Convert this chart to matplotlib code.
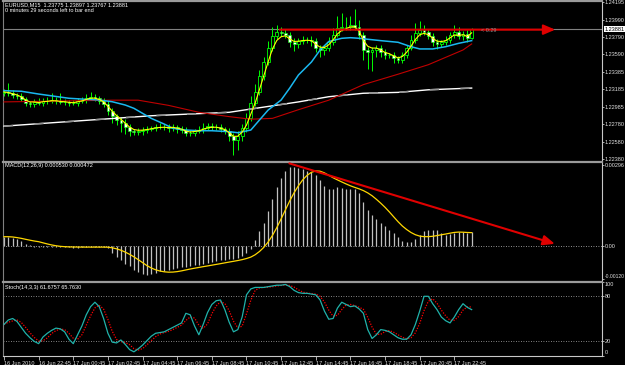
import numpy as np
import pandas as pd
import matplotlib
matplotlib.use("Agg")
import matplotlib.pyplot as plt

plt.rcParams['font.family'] = ['Liberation Sans', 'DejaVu Sans']

# ---- values ----
first_open = 1.23143
close = [1.23154, 1.23143, 1.23120, 1.23108, 1.23074, 1.23027, 1.23016, 1.23039, 1.23027, 1.23051,
         1.23051, 1.23062, 1.23051, 1.23039, 1.23039, 1.23027, 1.23027, 1.23051, 1.23062, 1.23085,
         1.23097, 1.23085, 1.23051, 1.23016, 1.22935, 1.22877, 1.22831, 1.22796, 1.22750, 1.22704,
         1.22692, 1.22704, 1.22715, 1.22727, 1.22738, 1.22750, 1.22750, 1.22750, 1.22738, 1.22750,
         1.22727, 1.22715, 1.22681, 1.22681, 1.22704, 1.22715, 1.22738, 1.22761, 1.22750, 1.22750,
         1.22727, 1.22704, 1.22646, 1.22600, 1.22646, 1.22738, 1.22854, 1.23027, 1.23154, 1.23340,
         1.23501, 1.23663, 1.23802, 1.23848, 1.23837, 1.23813, 1.23733, 1.23709, 1.23744, 1.23756,
         1.23756, 1.23744, 1.23663, 1.23640, 1.23663, 1.23733, 1.23813, 1.23894, 1.23906, 1.23906,
         1.23929, 1.23906, 1.23813, 1.23640, 1.23617, 1.23640, 1.23663, 1.23617, 1.23582, 1.23582,
         1.23548, 1.23524, 1.23582, 1.23663, 1.23756, 1.23837, 1.23871, 1.23848, 1.23802, 1.23733,
         1.23709, 1.23733, 1.23756, 1.23813, 1.23848, 1.23802, 1.23825, 1.23775, 1.23881]
# wicks in pips
wick_up = [4, 10, 3, 2, 3, 2, 2, 3, 5, 3, 4, 8, 3, 9, 3, 2, 3, 3, 4, 5,
           6, 3, 2, 3, 3, 4, 2, 3, 5, 3, 2, 3, 4, 3, 2, 3, 5, 3, 4, 3,
           2, 3, 4, 3, 2, 5, 6, 3, 4, 3, 3, 2, 3, 4, 6, 5, 6, 8, 9, 7,
           6, 8, 10, 8, 6, 4, 3, 4, 3, 5, 3, 4, 3, 3, 4, 6, 8, 14, 16, 12,
           10, 18, 8, 4, 3, 3, 4, 3, 3, 2, 3, 2, 3, 4, 6, 12, 10, 6, 4, 3,
           3, 2, 4, 3, 8, 6, 4, 5, 1.6]
wick_dn = [3, 3, 4, 3, 2, 3, 4, 3, 2, 4, 3, 2, 3, 2, 4, 3, 2, 3, 2, 3,
           2, 3, 4, 3, 5, 8, 6, 10, 8, 6, 4, 3, 5, 3, 2, 3, 2, 3, 4, 3,
           5, 4, 3, 4, 3, 2, 3, 2, 3, 3, 4, 3, 6, 17, 12, 6, 4, 3, 4, 3,
           5, 4, 3, 4, 3, 4, 6, 8, 5, 4, 3, 6, 5, 8, 6, 4, 3, 2, 3, 4,
           3, 3, 5, 12, 20, 22, 8, 6, 5, 4, 6, 4, 3, 3, 2, 3, 4, 3, 4, 5,
           6, 4, 3, 4, 3, 4, 5, 4, 0.8]

cyan_bars = [0, 4, 8, 15, 19, 22, 25, 28, 30, 32, 34, 37, 39, 42, 45, 48, 52, 54, 57, 59,
             61, 64, 66, 68, 71, 73, 75, 78, 80, 82, 84, 87, 91, 94, 96, 99, 102, 105, 108]
cyan_vals = [1.23170, 1.23163, 1.23131, 1.23082, 1.23070, 1.23062, 1.23042, 1.23004, 1.22966, 1.22908,
             1.22850, 1.22784, 1.22735, 1.22715, 1.22707, 1.22707, 1.22696, 1.22684, 1.22715, 1.22831,
             1.22946, 1.23062, 1.23201, 1.23351, 1.23501, 1.23640, 1.23738, 1.23775, 1.23782, 1.23775,
             1.23764, 1.23748, 1.23729, 1.23678, 1.23652, 1.23652, 1.23678, 1.23717, 1.23748]
red_bars = [0, 25, 31, 38, 45, 52, 57, 62, 68, 75, 83, 91, 98, 106, 108]
red_vals = [1.2304, 1.2306, 1.2306, 1.2300, 1.2292, 1.2287, 1.2284, 1.2285, 1.2295, 1.2306,
            1.2324, 1.2336, 1.2347, 1.2364, 1.2371]
white_bars = [0, 34, 52, 60, 68, 75, 83, 91, 98, 108]
white_vals = [1.2276, 1.2288, 1.2292, 1.2298, 1.2304, 1.2310, 1.2314, 1.2315, 1.2318, 1.2320]

# MACD main in 1e-5
macd_main = [34, 34, 31, 24, 17, 7, 2, -3, -4, -3, -3, -2, -2, -3, -4, -5, -6, -6, -5, -3,
             -2, -2, -3, -4, -8, -26, -39, -52, -64, -74, -86, -95, -102, -106, -104, -98, -93, -90, -86, -83,
             -80, -77, -76, -74, -71, -68, -64, -62, -58, -55, -52, -50, -48, -46, -42, -35, -25, -11, 22, 55,
             85, 129, 171, 215, 250, 275, 287, 287, 284, 280, 275, 272, 259, 241, 220, 207, 207, 214, 212, 210,
             210, 207, 193, 162, 132, 113, 97, 85, 73, 58, 46, 34, 19, 16, 16, 24, 40, 55, 58, 58,
             57, 46, 40, 44, 49, 51, 51, 49, 53]
stoch_k = [42, 48, 50, 46, 38, 30, 24, 19, 16, 25, 30, 34, 37, 36, 32, 22, 16, 28, 40, 55,
           66, 72, 66, 50, 30, 18, 17, 21, 15, 8, 5, 9, 14, 20, 26, 30, 31, 32, 35, 38,
           41, 44, 57, 55, 40, 28, 42, 58, 69, 74, 75, 62, 45, 32, 35, 52, 82, 90, 92, 92,
           92, 93, 94, 95, 95, 96, 93, 88, 85, 84, 84, 83, 82, 75, 60, 49, 50, 64, 72, 69,
           66, 67, 63, 57, 35, 23, 28, 35, 34, 32, 28, 24, 22, 22, 28, 42, 60, 80, 80, 70,
           62, 52, 47, 44, 52, 62, 70, 65, 62]

price_ticks = [1.24195, 1.23990, 1.23790, 1.23590, 1.23385, 1.23185, 1.22985, 1.22780, 1.22580, 1.22380]
last_price = 1.23881
time_labels = ['16 Jun 2010', '16 Jun 22:45', '17 Jun 00:45', '17 Jun 02:45', '17 Jun 04:45',
               '17 Jun 06:45', '17 Jun 08:45', '17 Jun 10:45', '17 Jun 12:45', '17 Jun 14:45',
               '17 Jun 16:45', '17 Jun 18:45', '17 Jun 20:45', '17 Jun 22:45']
# hand drawn lines: (bar, value) start and end
res_line = [(63.7, 1.23875), (127.3, 1.23875)]
macd_line = [(65.9, 0.00302), (127.2, 0.00008)]

W, H = 625, 365
fig = plt.figure(figsize=(W / 100, H / 100), dpi=100, facecolor='black')


def px_axes(top, bottom, left=3, right=602):
    ax = fig.add_axes([left / W, 1 - bottom / H, (right - left) / W, (bottom - top) / H])
    ax.set_facecolor('black')
    ax.set_xlim(-0.23, 138.1)
    for s in ax.spines.values():
        s.set_visible(False)
    ax.spines['left'].set_visible(True)
    ax.spines['left'].set_color('#808080')
    ax.spines['top'].set_visible(True)
    ax.spines['top'].set_color('#9a9a9a')
    ax.spines['top'].set_linewidth(1.6)
    ax.spines['right'].set_visible(True)
    ax.spines['right'].set_color('#c8c8c8')
    ax.spines['right'].set_linewidth(0.8)
    ax.yaxis.tick_right()
    ax.tick_params(axis='y', colors='#c8c8c8', labelcolor='#e0e0e0', labelsize=4,
                   length=1.5, width=0.6, pad=0.6)
    ax.tick_params(axis='x', bottom=False, labelbottom=False)
    return ax


tc = 'white'
ax1 = px_axes(1, 160.5)
ax2 = px_axes(161.5, 280.5)
ax3 = px_axes(281.5, 355.5)

# ---- price panel ----
x = np.arange(len(close))
c = np.array(close)
o = np.r_[first_open, c[:-1]]
hi = np.maximum(o, c) + np.array(wick_up) * 1e-4
lo = np.minimum(o, c) - np.array(wick_dn) * 1e-4
ax1.set_ylim(1.22363, 1.24206)
ax1.axhline(last_price, color='#808080', lw=0.8, zorder=1)
ax1.vlines(x, lo, hi, color='#00ff00', lw=0.7, zorder=2)
bull = c >= o
ax1.bar(x[bull], np.maximum((c - o)[bull], 1e-6), bottom=o[bull], width=0.65,
        color='black', edgecolor='#00ff00', lw=0.6, zorder=3)
ax1.bar(x[~bull], (o - c)[~bull], bottom=c[~bull], width=0.65,
        color='white', edgecolor='#00ff00', lw=0.4, zorder=3)

yellow = pd.Series(c).ewm(span=3, adjust=False).mean()
ax1.plot(white_bars, white_vals, color='white', lw=1.0, zorder=4)
ax1.plot(white_bars, white_vals, color='#909090', lw=1.1, dashes=(6, 14), zorder=4)
ax1.plot(red_bars, red_vals, color='#c00000', lw=0.8, zorder=4)
ax1.plot(cyan_bars, cyan_vals, color='#1ab8f0', lw=1.1, zorder=5)
ax1.plot(x, yellow, color='#ffff00', lw=0.8, zorder=6)

ax1.annotate('', xy=res_line[1], xytext=res_line[0],
             arrowprops=dict(arrowstyle='-|>,head_length=0.7,head_width=0.3', color='#e00000',
                             lw=1.5, shrinkA=0, shrinkB=0), zorder=7)
ax1.text(110.2, 1.23862, '< 0:29', color='#909090', fontsize=4, va='center', zorder=7)

ax1.set_yticks(price_ticks)
ax1.set_yticklabels([f'{v:.5f}' for v in price_ticks])
ax1.text(1.0035, last_price, f'{last_price:.5f}', transform=ax1.get_yaxis_transform(),
         fontsize=4, color='black', va='center', ha='left',
         bbox=dict(facecolor='white', edgecolor='none', pad=0.4))

# ---- MACD panel ----
m = np.array(macd_main) * 1e-5
signal = pd.Series(m).rolling(9, min_periods=1).mean()
ax2.set_ylim(-0.00126, 0.003088)
ax2.axhline(0, color='#c0c0c0', lw=0.6, ls=(0, (1, 2)), zorder=1)
ax2.vlines(x, 0, m, color='#c0c0c0', lw=0.9, zorder=2)
ax2.plot(x, signal, color='#ffd700', lw=0.9, zorder=3)
ax2.annotate('', xy=macd_line[1], xytext=macd_line[0],
             arrowprops=dict(arrowstyle='-|>,head_length=0.7,head_width=0.3', color='#e00000',
                             lw=1.5, shrinkA=0, shrinkB=0), zorder=4)
ax2.set_yticks([0.00296, 0.0, -0.0012])
ax2.set_yticklabels(['0.00296', '0.00', '-0.00120'])
mticks = ax2.yaxis.get_major_ticks()
mticks[2].label2.set_fontsize(3.6)
mticks[2].label2.set_va('bottom')

# ---- Stochastic panel ----
k = pd.Series(stoch_k)
d = k.rolling(3, min_periods=1).mean()
ax3.set_ylim(0, 100)
for lvl in (80, 20):
    ax3.axhline(lvl, color='#b0b0b0', lw=0.6, ls=(0, (1, 2)), zorder=1)
ax3.plot(x, k, color='#20b2aa', lw=0.9, zorder=3)
ax3.plot(x, d, color='#ff0000', lw=0.9, ls=(0, (1, 1.2)), zorder=2)
ax3.set_yticks([100, 80, 20, 0])
ax3.set_yticklabels(['100', '80', '20', '0'])
ticks = ax3.yaxis.get_major_ticks()
ticks[0].label2.set_va('top')
ticks[3].label2.set_va('bottom')
ax3.spines['bottom'].set_visible(True)
ax3.spines['bottom'].set_color('#c8c8c8')
ax3.spines['bottom'].set_linewidth(0.8)
ax3.set_xticks(np.arange(0, len(time_labels) * 8, 8))
ax3.set_xticklabels(time_labels)
ax3.tick_params(axis='x', bottom=True, labelbottom=True, colors='#c8c8c8', labelcolor='#e0e0e0',
                labelsize=4, length=3, width=0.6, pad=1)
for lab in ax3.get_xticklabels():
    lab.set_ha('left')

# ---- header texts ----
fig.text(5 / W, 1 - 5 / H, 'EURUSD,M15  1.23775 1.23897 1.23767 1.23881', color=tc, fontsize=4, va='center')
fig.text(5 / W, 1 - 10.5 / H, '0 minutes 29 seconds left to bar end', color=tc, fontsize=4, va='center')
fig.text(5 / W, 1 - 166 / H, 'MACD(12,26,9) 0.000530 0.000472', color=tc, fontsize=4, va='center')
fig.text(5 / W, 1 - 287 / H, 'Stoch(14,3,3) 61.6757 65.7630', color=tc, fontsize=4, va='center')

fig.savefig('out.png', dpi=100, facecolor='black')
